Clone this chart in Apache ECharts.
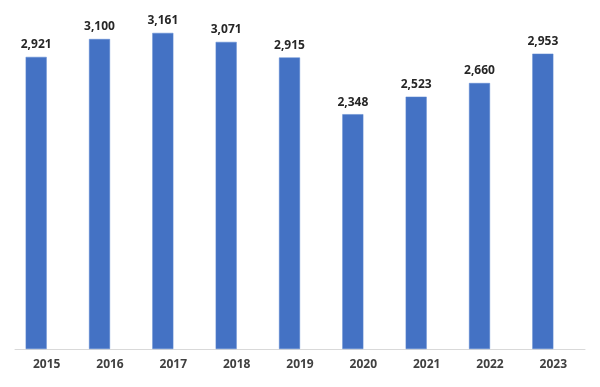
<!DOCTYPE html>
<html><head><meta charset="utf-8">
<script src="https://cdn.jsdelivr.net/npm/echarts@6/dist/echarts.min.js"></script>
<style>html,body{margin:0;padding:0;background:#fff}#c{width:600px;height:387px}</style>
</head><body><div id="c"></div>
<script>
var categories = ['2015','2016','2017','2018','2019','2020','2021','2022','2023'];
var values = [2921, 3100, 3161, 3071, 2915, 2348, 2523, 2660, 2953];
var chart = echarts.init(document.getElementById('c'), null, {renderer:'canvas'});
chart.setOption({
  animation: false,
  grid: {left: 15, right: 15, top: 9, bottom: 38},
  xAxis: {
    type: 'category', data: categories,
    axisLine: {show: true, lineStyle: {color: '#d9d9d9', width: 1}},
    axisTick: {show: false},
    axisLabel: {color: '#404040', fontFamily: 'Open Sans', fontWeight: 'bold', fontSize: 12, margin: 10}
  },
  yAxis: {type: 'value', min: 0, max: 3400, show: false, splitLine: {show: false}},
  series: [
    {type: 'bar', data: values, barWidth: 21, barGap: '0%',
     itemStyle: {color: '#4472C4', borderColor: '#5b86d0', borderWidth: 0.5},
     label: {show: true, position: 'top', distance: 6, color: '#262626', fontFamily: 'Open Sans', fontWeight: 'bold', fontSize: 12,
       formatter: function(p){ return p.value.toLocaleString('en-US'); }}},
    {type: 'bar', data: categories.map(function(){return null;}), barWidth: 21}
  ]
});
</script></body></html>
